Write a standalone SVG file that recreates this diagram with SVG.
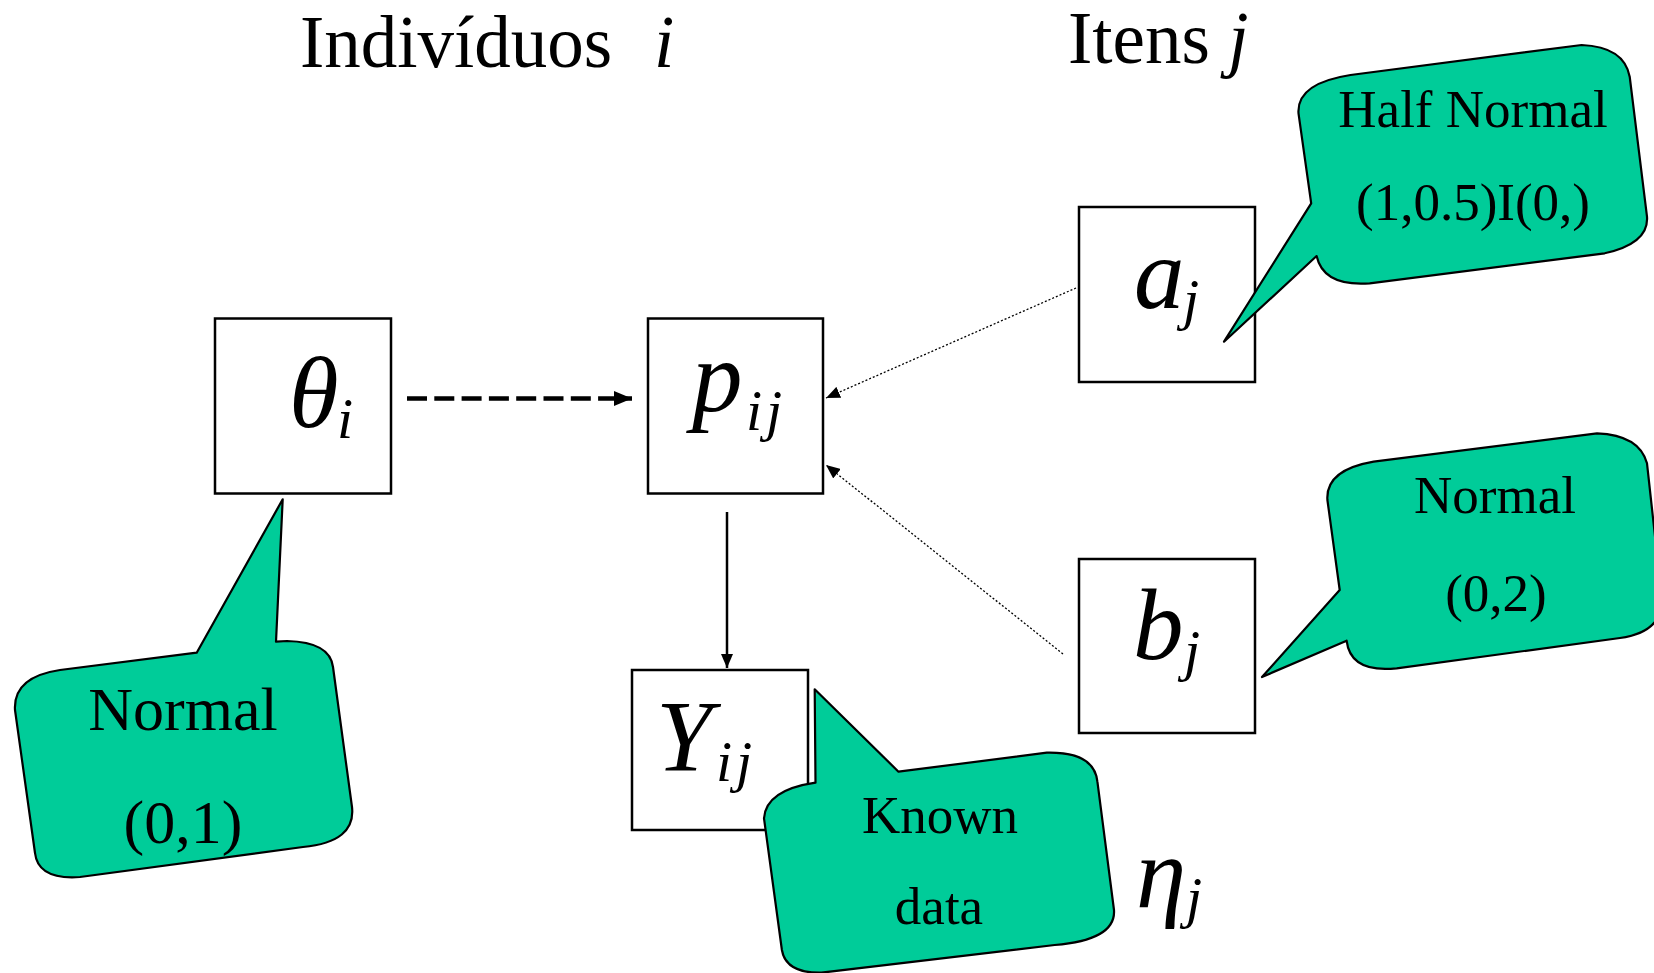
<svg xmlns="http://www.w3.org/2000/svg" width="1654" height="973" viewBox="0 0 1654 973">
<style>
text{font-family:"Liberation Serif","Times New Roman",serif;fill:#000}
.title{font-size:73px}
.m{font-size:101px;font-style:italic}
.s{font-size:58px;font-style:italic;letter-spacing:4px}
.box{fill:#fff;stroke:#000;stroke-width:2.5}
.call{fill:#00CC99;stroke:#000;stroke-width:2.2;stroke-linejoin:round}
.ct{font-size:53px;text-anchor:middle}
.ct2{font-size:62px;text-anchor:middle}
</style>
<defs>
<marker id="ah" markerWidth="14" markerHeight="12" refX="14" refY="6" orient="auto" markerUnits="userSpaceOnUse">
<path d="M0,0 L14,6 L0,12 Z" fill="#000"/>
</marker>
<marker id="ahs" markerWidth="18" markerHeight="15" refX="18" refY="7.5" orient="auto" markerUnits="userSpaceOnUse">
<path d="M0,0 L18,7.5 L0,15 Z" fill="#000"/>
</marker>
</defs>
<rect width="1654" height="973" fill="#fff"/>
<g id="titles">
<text class="title" x="300" y="67">Indivíduos</text>
<text class="title" x="654" y="67" font-style="italic">i</text>
<text class="title" x="1068" y="63">Itens <tspan font-style="italic">j</tspan></text>
</g>
<g id="connectors">
<line x1="407" y1="398.5" x2="632" y2="398.5" stroke="#000" stroke-width="4.5" stroke-dasharray="20,7.3" marker-end="url(#ahs)"/>
<line x1="727" y1="512" x2="727" y2="668" stroke="#000" stroke-width="2.5" marker-end="url(#ah)"/>
<line x1="1076" y1="288" x2="826" y2="398" stroke="#000" stroke-width="1.3" stroke-dasharray="2,2" marker-end="url(#ah)"/>
<line x1="1063" y1="654" x2="826" y2="465" stroke="#000" stroke-width="1.3" stroke-dasharray="2,2" marker-end="url(#ah)"/>
</g>
<g id="node-theta">
<rect class="box" x="215" y="318.5" width="176" height="175"/>
<text class="m" x="289" y="427">θ</text>
<text class="s" x="337" y="438">i</text>
</g>
<g id="node-p">
<rect class="box" x="648" y="318.5" width="175" height="175"/>
<text class="m" x="692" y="411">p</text>
<text class="s" x="746" y="430">ij</text>
</g>
<g id="node-a">
<rect class="box" x="1079" y="207" width="176" height="175"/>
<text class="m" x="1134" y="308">a</text>
<text class="s" x="1183" y="319">j</text>
</g>
<g id="node-b">
<rect class="box" x="1079" y="559" width="176" height="174"/>
<text class="m" x="1133" y="659">b</text>
<text class="s" x="1184" y="670">j</text>
</g>
<g id="node-Y">
<rect class="box" x="632" y="670" width="176" height="160"/>
<text class="m" x="656" y="771">Y</text>
<text class="s" x="716" y="781">ij</text>
</g>
<g id="label-eta">
<text class="m" x="1136" y="907">η</text>
<text class="s" x="1186" y="917">j</text>
</g>
<g id="callout-theta">
<path class="call" d="M282.7,499.3 L276,641.7 L287,641 Q330,642 333,667 L352,807 Q356,842 303,847 L80,877 Q38,880 35,853 L15,710 Q13,677 60,670 L196.7,652.7 Z"/>
<text class="ct2" x="183" y="730">Normal</text>
<text class="ct2" x="183" y="843">(0,1)</text>
</g>
<g id="callout-a">
<path class="call" d="M1224,341.7 L1311.2,203.3 L1298.5,113.3 Q1296.5,83.3 1350.5,75 L1581.6,45 Q1624,46.7 1629.7,76.7 L1647,216.7 Q1649,243.3 1604.7,253.3 L1369.7,283.3 Q1323.5,286.7 1316.6,256 Z"/>
<text class="ct" x="1473" y="127">Half Normal</text>
<text class="ct" x="1473" y="220">(1,0.5)I(0,)</text>
</g>
<g id="callout-b">
<path class="call" d="M1262,677 L1339.7,590 L1327.4,500 Q1325.4,470 1373.6,461.7 L1597,433.3 Q1639.4,435 1647,463.3 L1662,600 Q1662,632 1620,638 L1396.7,668.3 Q1350.5,673.3 1346.6,640.7 Z"/>
<text class="ct" x="1495" y="513">Normal</text>
<text class="ct" x="1496" y="611">(0,2)</text>
</g>
<g id="callout-Y">
<path class="call" d="M814.7,689.3 L898.5,771.7 L1046.8,752.7 Q1094.3,751.7 1097.4,781.7 L1114,910 Q1116,940 1054.7,945 L821.4,972.7 Q785.8,973.3 781.9,950 L764,818.3 Q766,790 815.5,782.7 Z"/>
<text class="ct" x="940" y="833">Known</text>
<text class="ct" x="939" y="924">data</text>
</g>
</svg>
